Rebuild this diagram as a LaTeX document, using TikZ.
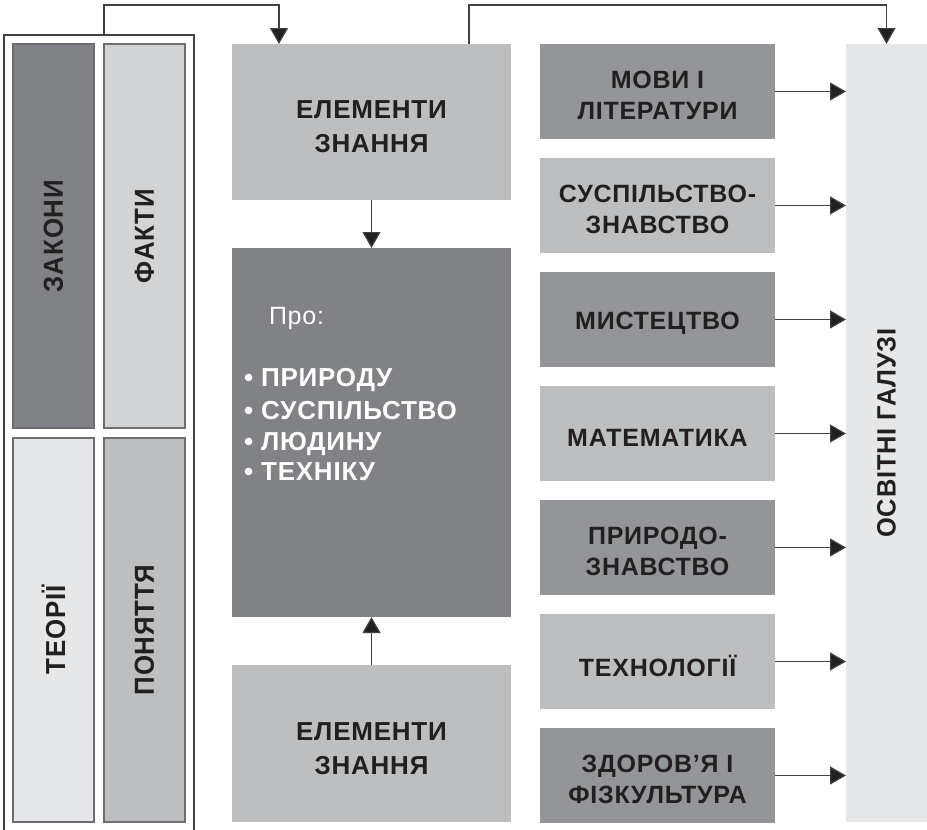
\documentclass[tikz,border=0pt]{standalone}
\usepackage{fontspec}
\setmainfont{Liberation Sans}[LetterSpace=3]
\usetikzlibrary{arrows.meta}
\definecolor{gA}{HTML}{808285}
\definecolor{gB}{HTML}{939598}
\definecolor{gC}{HTML}{BCBEC0}
\definecolor{gD}{HTML}{D1D3D4}
\definecolor{gE}{HTML}{E6E7E8}
\definecolor{ink}{HTML}{231F20}
\definecolor{edge}{HTML}{6D6E71}
\definecolor{wire}{HTML}{414042}
\begin{document}
\begin{tikzpicture}[x=1pt,y=-1pt,
  plain/.style={draw=none,inner sep=0pt,outer sep=0pt},
  lbox/.style={plain,draw=edge,line width=1.2pt,minimum width=81pt,minimum height=384pt},
  vtxt/.style={text=ink,font=\fontsize{27.5}{30}\selectfont\bfseries\addfontfeature{FakeStretch=0.94},rotate=90},
  cbox/.style={plain,minimum width=279pt},
  rbox/.style={plain,minimum width=235pt,minimum height=95pt},
  btxt/.style={plain,text=ink,align=center,font=\fontsize{26}{34}\selectfont\bfseries},
  rtxt/.style={plain,text=ink,align=center,font=\fontsize{25}{30.5}\selectfont\bfseries},
  wtxt/.style={plain,text=white,anchor=base west,font=\fontsize{26}{31}\selectfont\bfseries},
  arr/.style={draw=wire,line width=1.2pt,-{Triangle[length=16pt,width=18pt,fill=ink]}},
  wireline/.style={draw=wire,line width=1.2pt}]
\useasboundingbox (0,0) rectangle (927,830);
% left frame (open at the bottom)
\coordinate (fbl) at (4,832);
\coordinate (fbr) at (194,832);
\node[plain,minimum width=190pt,minimum height=10pt,anchor=north west] (frame) at (4,35) {};
\draw[wireline] (fbl) -- (frame.north west) -- (frame.north east) -- (fbr);
\node[lbox,fill=gA] (zak) at (53.5,236) {};
\node[vtxt] (zakt) at (zak.center) {ЗАКОНИ};
\node[lbox,fill=gD] (fak) at (144.5,236) {};
\node[vtxt] (fakt) at (fak.center) {ФАКТИ};
\node[lbox,fill=gE] (teo) at (53.5,630) {};
\node[vtxt] (teot) at (teo.center) {ТЕОРІЇ};
\node[lbox,fill=gC] (pon) at (144.5,630) {};
\node[vtxt] (pont) at (pon.center) {ПОНЯТТЯ};
% centre column
\node[cbox,fill=gC,minimum height=156pt] (el1) at (371.5,122) {};
\node[btxt] (el1t) at ([yshift=-5pt]el1.center) {ЕЛЕМЕНТИ\\ЗНАННЯ};
\node[cbox,fill=gA,minimum height=369pt] (mid) at (371.5,432.5) {};
\node[cbox,fill=gC,minimum height=157pt] (el2) at (371.5,743.5) {};
\node[btxt] (el2t) at ([yshift=-5pt]el2.center) {ЕЛЕМЕНТИ\\ЗНАННЯ};
\node[wtxt,font=\fontsize{25}{31}\selectfont] (pro) at (269,324) {Про:};
\node[wtxt] (l1) at (244,386) {• ПРИРОДУ};
\node[wtxt] (l2) at (244,419) {• СУСПІЛЬСТВО};
\node[wtxt] (l3) at (244,450) {• ЛЮДИНУ};
\node[wtxt] (l4) at (244,480.5) {• ТЕХНІКУ};
% right column
\node[plain,fill=gE,minimum width=81pt,minimum height=778pt] (osv) at (886.5,433) {};
\node[vtxt,font=\fontsize{26.5}{30}\selectfont\bfseries\addfontfeature{FakeStretch=0.96}] (osvt) at (osv.center) {ОСВІТНІ ГАЛУЗІ};
\foreach \i/\y/\c/\t in {1/91.5/gB/{МОВИ І\\ЛІТЕРАТУРИ},
    2/205.5/gC/{СУСПІЛЬСТВО-\\ЗНАВСТВО},
    3/319.5/gB/{МИСТЕЦТВО},
    4/433.5/gC/{МАТЕМАТИКА},
    5/547.5/gB/{ПРИРОДО-\\ЗНАВСТВО},
    6/661.5/gC/{ТЕХНОЛОГІЇ},
    7/775.5/gB/{ЗДОРОВ’Я І\\ФІЗКУЛЬТУРА}}{
  \node[rbox,fill=\c] (r\i) at (657.5,\y) {};
  \node[rtxt] (rt\i) at ([yshift=-4pt]r\i.center) {\t};
  \draw[arr] (r\i.east) -- (r\i.east -| osv.west);
}
% connectors
\coordinate (top) at (0,5);
\draw[arr] ([xshift=100pt]frame.north west) -- ([xshift=100pt]frame.north west |- top)
  -| ([xshift=47pt]el1.north west);
\draw[arr] ([xshift=237pt]el1.north west) -- ([xshift=237pt]el1.north west |- top)
  -| (osv.north);
\draw[arr] (el1.south) -- (mid.north);
\draw[arr] (el2.north) -- (mid.south);
\end{tikzpicture}
\end{document}
